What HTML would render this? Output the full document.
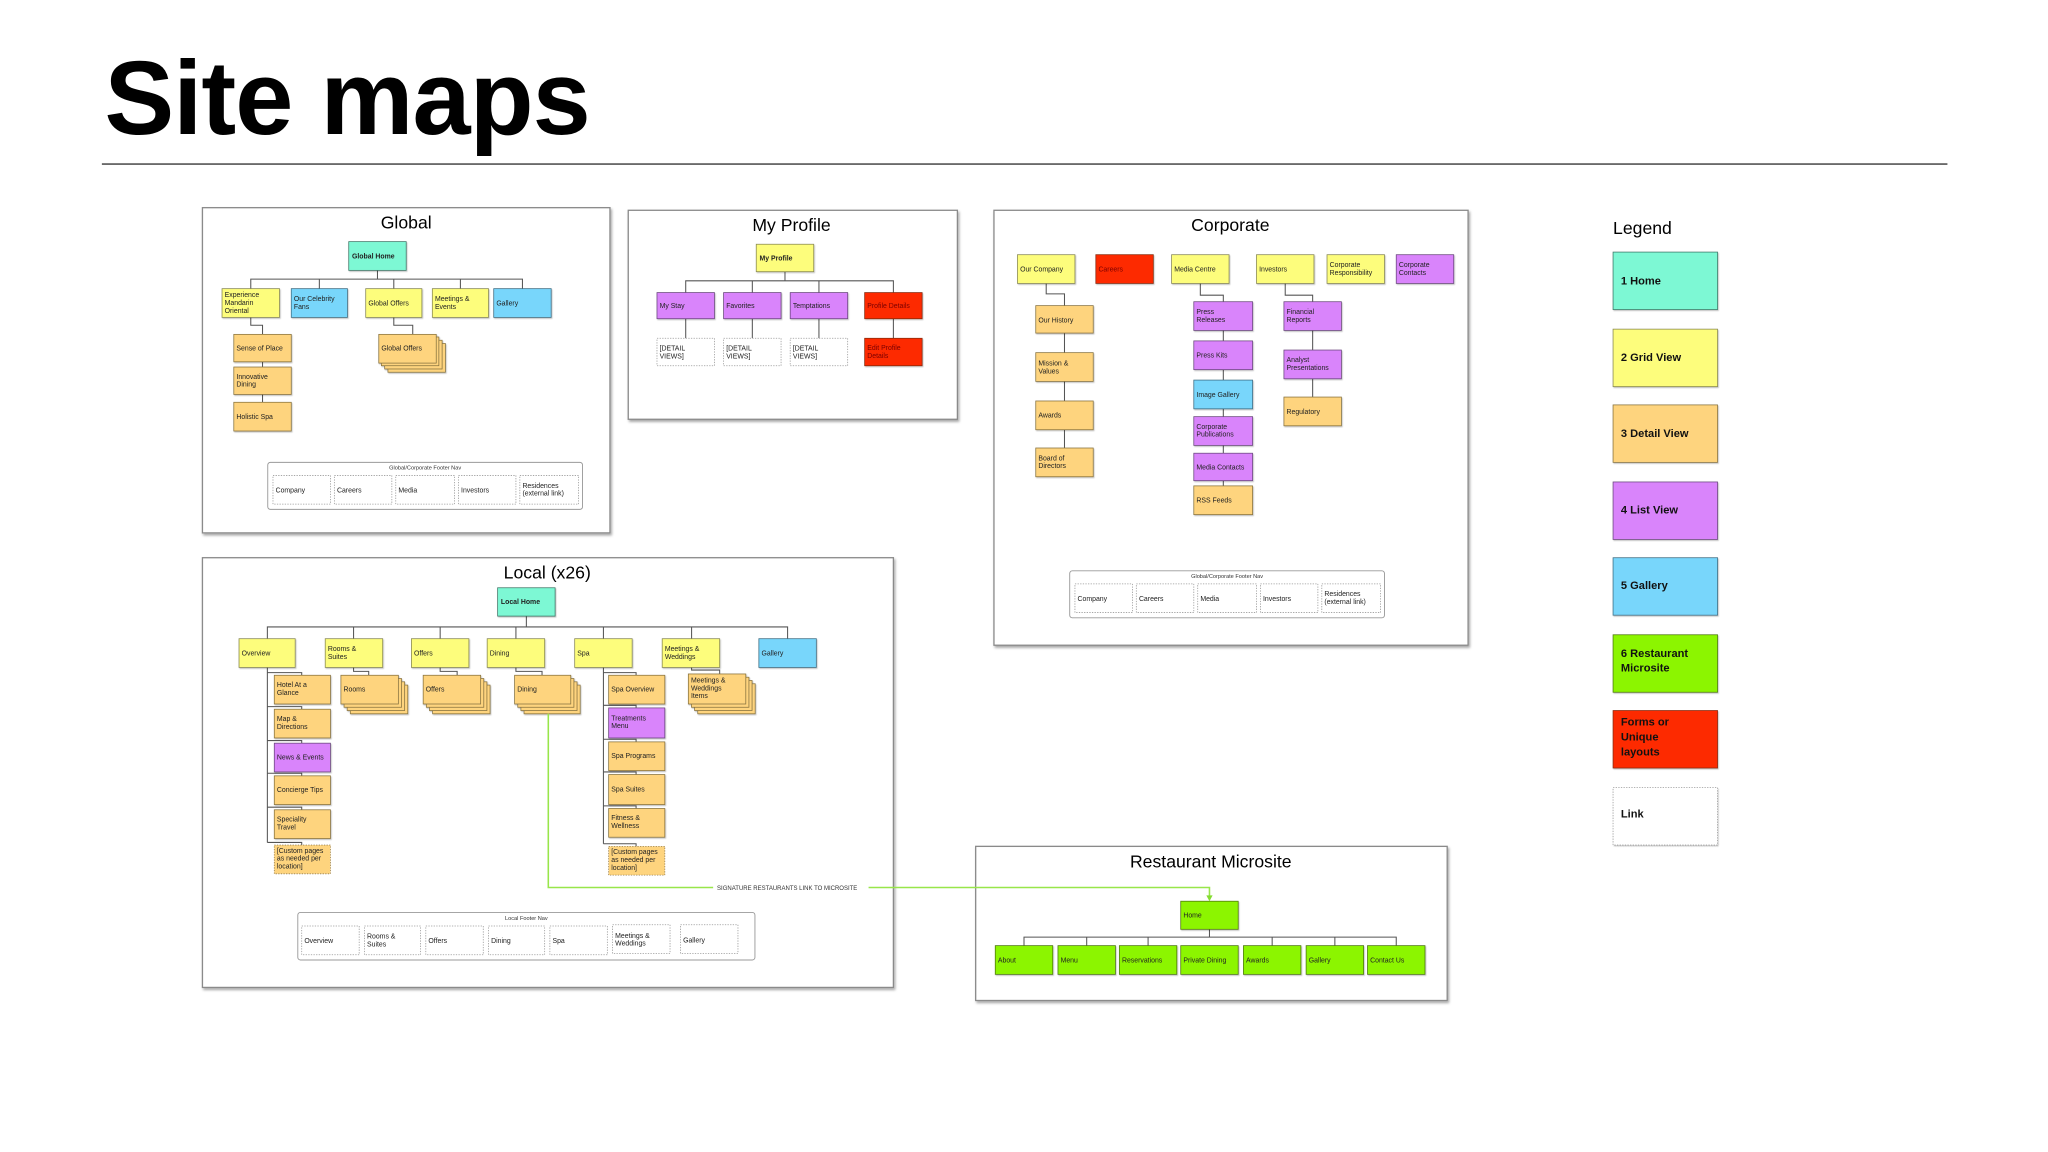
<!DOCTYPE html>
<html><head><meta charset="utf-8"><style>
html,body{margin:0;padding:0;background:#fff;}
svg{display:block;}
text{font-family:"Liberation Sans",Arial,sans-serif;}
.n{font-size:5.3px;fill:#222;}
.b{font-weight:bold;}
.pt{font-size:13.5px;fill:#000;text-anchor:middle;}
.c{fill:none;stroke:#555;stroke-width:0.8;}
.y{fill:#fdfd7c;stroke:#8a8a55;stroke-width:0.6;}
.o{fill:#fed47e;stroke:#8a7440;stroke-width:0.6;}
.p{fill:#d984fb;stroke:#6d4a80;stroke-width:0.6;}
.bl{fill:#78d6fb;stroke:#3f6f86;stroke-width:0.6;}
.h{fill:#7df8d4;stroke:#3f7a6a;stroke-width:0.6;}
.r{fill:#fd2b00;stroke:#8a2a10;stroke-width:0.6;}
.g{fill:#8cf500;stroke:#4f7a10;stroke-width:0.6;}
.d{fill:#fff;stroke:#999;stroke-width:0.6;stroke-dasharray:1 1;}
.od{fill:#fed47e;stroke:#998050;stroke-width:0.6;stroke-dasharray:1 1;}
.panel{fill:#fff;stroke:#8a8a8a;stroke-width:1;}
.fn{fill:#fff;stroke:#999;stroke-width:0.7;}
.ft{font-size:4.3px;fill:#333;text-anchor:middle;}
.rt{fill:#7a0000;}
.lg{font-size:8.5px;font-weight:bold;fill:#111;}
</style></head><body>
<svg width="2048" height="1152" viewBox="0 0 1568 882" xmlns="http://www.w3.org/2000/svg">
<defs>
<filter id="sh" x="-5%" y="-5%" width="115%" height="115%"><feDropShadow dx="1" dy="1.5" stdDeviation="1" flood-color="#000" flood-opacity="0.35"/></filter>
<filter id="ns" x="-10%" y="-10%" width="130%" height="140%"><feDropShadow dx="0.6" dy="0.8" stdDeviation="0.5" flood-color="#000" flood-opacity="0.25"/></filter>
</defs>

<text x="80" y="102.6" style="font-size:80px;font-weight:bold;letter-spacing:-0.7px;" fill="#000">Site maps</text>
<line x1="78" y1="125.6" x2="1491" y2="125.6" stroke="#555" stroke-width="1.2"/>

<!-- GLOBAL -->
<rect class="panel" x="155" y="159" width="312" height="249" filter="url(#sh)"/>
<text class="pt" x="311" y="175">Global</text>
<path class="c" d="M289 207V213.7M192 221V213.7H400V221M244.5 213.7V221M301.5 213.7V221M352.5 213.7V221"/>
<path class="c" d="M192 243V249H201V256M201 277V281M201 302V308M301.5 243V249H316V256"/>
<g filter="url(#ns)">
<rect class="h" x="267" y="185" width="44" height="22"/>
<rect class="y" x="170" y="221" width="44" height="22"/>
<rect class="bl" x="223" y="221" width="43" height="22"/>
<rect class="y" x="280" y="221" width="43" height="22"/>
<rect class="y" x="331" y="221" width="43" height="22"/>
<rect class="bl" x="378" y="221" width="44" height="22"/>
<rect class="o" x="179" y="256" width="44" height="21"/>
<rect class="o" x="179" y="281" width="44" height="21"/>
<rect class="o" x="179" y="308" width="44" height="22"/>
<rect class="o" x="297" y="263" width="44" height="22"/>
<rect class="o" x="294.5" y="260.5" width="44" height="22"/>
<rect class="o" x="292" y="258" width="44" height="22"/>
<rect class="o" x="290" y="256" width="44" height="22"/>
</g>
<text class="n b" x="269.5" y="197.8">Global Home</text>
<text class="n" x="172" y="227.5">Experience<tspan x="172" dy="6">Mandarin</tspan><tspan x="172" dy="6">Oriental</tspan></text>
<text class="n" x="225" y="230.5">Our Celebrity<tspan x="225" dy="6">Fans</tspan></text>
<text class="n" x="282" y="233.8">Global Offers</text>
<text class="n" x="333" y="230.5">Meetings &amp;<tspan x="333" dy="6">Events</tspan></text>
<text class="n" x="380" y="233.8">Gallery</text>
<text class="n" x="181" y="268.3">Sense of Place</text>
<text class="n" x="181" y="290">Innovative<tspan x="181" dy="6">Dining</tspan></text>
<text class="n" x="181" y="320.7">Holistic Spa</text>
<text class="n" x="292" y="268.5">Global Offers</text>
<rect class="fn" x="205" y="354" width="241" height="36" rx="2"/>
<text class="ft" x="325.5" y="359.5">Global/Corporate Footer Nav</text>
<rect class="d" x="209" y="364" width="44" height="22"/>
<rect class="d" x="256" y="364" width="44" height="22"/>
<rect class="d" x="303" y="364" width="45" height="22"/>
<rect class="d" x="351" y="364" width="44" height="22"/>
<rect class="d" x="398" y="364" width="45" height="22"/>
<text class="n" x="211" y="377">Company</text>
<text class="n" x="258" y="377">Careers</text>
<text class="n" x="305" y="377">Media</text>
<text class="n" x="353" y="377">Investors</text>
<text class="n" x="400" y="373.5">Residences<tspan x="400" dy="5.8">(external link)</tspan></text>

<!-- MY PROFILE -->
<rect class="panel" x="481" y="161" width="252" height="160" filter="url(#sh)"/>
<text class="pt" x="606" y="177">My Profile</text>
<path class="c" d="M601 208V215M525 224V215H684V224M576 215V224M627 215V224M525 244V259M576 244V259M627 244V259M684 244V259"/>
<g filter="url(#ns)">
<rect class="y" x="579" y="187" width="44" height="21"/>
<rect class="p" x="503" y="224" width="44" height="20"/>
<rect class="p" x="554" y="224" width="44" height="20"/>
<rect class="p" x="605" y="224" width="44" height="20"/>
<rect class="r" x="662" y="224" width="44" height="20"/>
<rect class="r" x="662" y="259" width="44" height="21"/>
</g>
<rect class="d" x="503" y="259" width="44" height="21"/>
<rect class="d" x="554" y="259" width="44" height="21"/>
<rect class="d" x="605" y="259" width="44" height="21"/>
<text class="n b" x="581.5" y="199.5">My Profile</text>
<text class="n" x="505" y="236">My Stay</text>
<text class="n" x="556" y="236">Favorites</text>
<text class="n" x="607" y="236">Temptations</text>
<text class="n rt" x="664" y="236">Profile Details</text>
<text class="n" x="505" y="268.5">[DETAIL<tspan x="505" dy="6">VIEWS]</tspan></text>
<text class="n" x="556" y="268.5">[DETAIL<tspan x="556" dy="6">VIEWS]</tspan></text>
<text class="n" x="607" y="268.5">[DETAIL<tspan x="607" dy="6">VIEWS]</tspan></text>
<text class="n rt" x="664" y="268">Edit Profile<tspan x="664" dy="6">Details</tspan></text>

<!-- CORPORATE -->
<rect class="panel" x="761" y="161" width="363" height="333" filter="url(#sh)"/>
<text class="pt" x="942" y="177">Corporate</text>
<path class="c" d="M801 217V225H815V234M815 255V270M815 292V307M815 329V343"/>
<path class="c" d="M919 217V226H936.6V231M936.6 253V261M936.6 283V291M936.6 313V319M936.6 341V347M936.6 368V372"/>
<path class="c" d="M984 217V226H1005V231M1005 253V268M1005 290V304"/>
<g filter="url(#ns)">
<rect class="y" x="779" y="195" width="44" height="22"/>
<rect class="r" x="839" y="195" width="44" height="22"/>
<rect class="y" x="897" y="195" width="44" height="22"/>
<rect class="y" x="962" y="195" width="44" height="22"/>
<rect class="y" x="1016" y="195" width="44" height="22"/>
<rect class="p" x="1069" y="195" width="44" height="22"/>
<rect class="o" x="793" y="234" width="44" height="21"/>
<rect class="o" x="793" y="270" width="44" height="22"/>
<rect class="o" x="793" y="307" width="44" height="22"/>
<rect class="o" x="793" y="343" width="44" height="22"/>
<rect class="p" x="914" y="231" width="45" height="22"/>
<rect class="p" x="914" y="261" width="45" height="22"/>
<rect class="bl" x="914" y="291" width="45" height="22"/>
<rect class="p" x="914" y="319" width="45" height="22"/>
<rect class="p" x="914" y="347" width="45" height="21"/>
<rect class="o" x="914" y="372" width="45" height="22"/>
<rect class="p" x="983" y="231" width="44" height="22"/>
<rect class="p" x="983" y="268" width="44" height="22"/>
<rect class="o" x="983" y="304" width="44" height="22"/>
</g>
<text class="n" x="781" y="207.8">Our Company</text>
<text class="n rt" x="841" y="207.8">Careers</text>
<text class="n" x="899" y="207.8">Media Centre</text>
<text class="n" x="964" y="207.8">Investors</text>
<text class="n" x="1018" y="204.5">Corporate<tspan x="1018" dy="6">Responsibility</tspan></text>
<text class="n" x="1071" y="204.5">Corporate<tspan x="1071" dy="6">Contacts</tspan></text>
<text class="n" x="795" y="246.8">Our History</text>
<text class="n" x="795" y="279.8">Mission &amp;<tspan x="795" dy="6">Values</tspan></text>
<text class="n" x="795" y="319.8">Awards</text>
<text class="n" x="795" y="352.5">Board of<tspan x="795" dy="6">Directors</tspan></text>
<text class="n" x="916" y="240.5">Press<tspan x="916" dy="6">Releases</tspan></text>
<text class="n" x="916" y="273.8">Press Kits</text>
<text class="n" x="916" y="303.8">Image Gallery</text>
<text class="n" x="916" y="328.3">Corporate<tspan x="916" dy="6">Publications</tspan></text>
<text class="n" x="916" y="359.3">Media Contacts</text>
<text class="n" x="916" y="384.8">RSS Feeds</text>
<text class="n" x="985" y="240.5">Financial<tspan x="985" dy="6">Reports</tspan></text>
<text class="n" x="985" y="277.3">Analyst<tspan x="985" dy="6">Presentations</tspan></text>
<text class="n" x="985" y="316.8">Regulatory</text>
<rect class="fn" x="819" y="437" width="241" height="36" rx="2"/>
<text class="ft" x="939.5" y="442.5">Global/Corporate Footer Nav</text>
<rect class="d" x="823" y="447" width="44" height="22"/>
<rect class="d" x="870" y="447" width="44" height="22"/>
<rect class="d" x="917" y="447" width="45" height="22"/>
<rect class="d" x="965" y="447" width="44" height="22"/>
<rect class="d" x="1012" y="447" width="45" height="22"/>
<text class="n" x="825" y="460">Company</text>
<text class="n" x="872" y="460">Careers</text>
<text class="n" x="919" y="460">Media</text>
<text class="n" x="967" y="460">Investors</text>
<text class="n" x="1014" y="456.5">Residences<tspan x="1014" dy="5.8">(external link)</tspan></text>

<!-- LOCAL -->
<rect class="panel" x="155" y="427" width="529" height="329" filter="url(#sh)"/>
<text class="pt" x="419" y="443">Local (x26)</text>
<path class="c" d="M403 471.7V480M204.7 489V480H603V489M270.7 480V489M337 480V489M395 480V489M462 480V489M529.5 480V489"/>
<path class="c" d="M204.7 511V645M204.7 515H231V517M204.7 541H231V543M204.7 567H231V569M204.7 592H231V594M204.7 618H231V620M204.7 645H231V647"/>
<path class="c" d="M462 511V646M462 515H487V517M462 540H487V542M462 566H487V568M462 591H487V593M462 617H487V619M462 646H487V648"/>
<path class="c" d="M270.7 511V514H282.3V517M337 511V514H350V517M395 511V514H415V517M529.5 511V513H551V516"/>
<g filter="url(#ns)">
<rect class="h" x="381" y="450" width="44" height="21.7"/>
<rect class="y" x="183" y="489" width="43" height="22"/>
<rect class="y" x="249" y="489" width="44" height="22"/>
<rect class="y" x="315" y="489" width="44" height="22"/>
<rect class="y" x="373" y="489" width="44" height="22"/>
<rect class="y" x="440" y="489" width="44" height="22"/>
<rect class="y" x="507" y="489" width="44" height="22"/>
<rect class="bl" x="581" y="489" width="44" height="22"/>
<rect class="o" x="210" y="517" width="43" height="22"/>
<rect class="o" x="210" y="543" width="43" height="22"/>
<rect class="p" x="210" y="569" width="43" height="22"/>
<rect class="o" x="210" y="594" width="43" height="22"/>
<rect class="o" x="210" y="620" width="43" height="22"/>
<rect class="o" x="466" y="517" width="43" height="22"/>
<rect class="p" x="466" y="542" width="43" height="23"/>
<rect class="o" x="466" y="568" width="43" height="22"/>
<rect class="o" x="466" y="593" width="43" height="23"/>
<rect class="o" x="466" y="619" width="43" height="22"/>
<rect class="o" x="268.2" y="524.5" width="44" height="22"/><rect class="o" x="265.8" y="522" width="44" height="22"/><rect class="o" x="263.4" y="519.5" width="44" height="22"/><rect class="o" x="261" y="517" width="44" height="22"/>
<rect class="o" x="331.2" y="524.5" width="44" height="22"/><rect class="o" x="328.8" y="522" width="44" height="22"/><rect class="o" x="326.4" y="519.5" width="44" height="22"/><rect class="o" x="324" y="517" width="44" height="22"/>
<rect class="o" x="401.2" y="524.5" width="43" height="22"/><rect class="o" x="398.8" y="522" width="43" height="22"/><rect class="o" x="396.4" y="519.5" width="43" height="22"/><rect class="o" x="394" y="517" width="43" height="22"/>
<rect class="o" x="534.2" y="523.5" width="44" height="23"/><rect class="o" x="531.8" y="521" width="44" height="23"/><rect class="o" x="529.4" y="518.5" width="44" height="23"/><rect class="o" x="527" y="516" width="44" height="23"/>
</g>
<rect class="od" x="210" y="647" width="43" height="22"/>
<rect class="od" x="466" y="648" width="43" height="22"/>
<text class="n b" x="383.5" y="462.5">Local Home</text>
<text class="n" x="185" y="501.8">Overview</text>
<text class="n" x="251" y="498.5">Rooms &amp;<tspan x="251" dy="6">Suites</tspan></text>
<text class="n" x="317" y="501.8">Offers</text>
<text class="n" x="375" y="501.8">Dining</text>
<text class="n" x="442" y="501.8">Spa</text>
<text class="n" x="509" y="498.5">Meetings &amp;<tspan x="509" dy="6">Weddings</tspan></text>
<text class="n" x="583" y="501.8">Gallery</text>
<text class="n" x="212" y="526">Hotel At a<tspan x="212" dy="6">Glance</tspan></text>
<text class="n" x="212" y="552">Map &amp;<tspan x="212" dy="6">Directions</tspan></text>
<text class="n" x="212" y="581.5">News &amp; Events</text>
<text class="n" x="212" y="606.5">Concierge Tips</text>
<text class="n" x="212" y="629">Speciality<tspan x="212" dy="6">Travel</tspan></text>
<text class="n" x="212" y="653">[Custom pages<tspan x="212" dy="6">as needed per</tspan><tspan x="212" dy="6">location]</tspan></text>
<text class="n" x="263" y="529.5">Rooms</text>
<text class="n" x="326" y="529.5">Offers</text>
<text class="n" x="396" y="529.5">Dining</text>
<text class="n" x="529" y="522.5">Meetings &amp;<tspan x="529" dy="6">Weddings</tspan><tspan x="529" dy="6">Items</tspan></text>
<text class="n" x="468" y="529.5">Spa Overview</text>
<text class="n" x="468" y="551.5">Treatments<tspan x="468" dy="6">Menu</tspan></text>
<text class="n" x="468" y="580.5">Spa Programs</text>
<text class="n" x="468" y="606">Spa Suites</text>
<text class="n" x="468" y="628">Fitness &amp;<tspan x="468" dy="6">Wellness</tspan></text>
<text class="n" x="468" y="654">[Custom pages<tspan x="468" dy="6">as needed per</tspan><tspan x="468" dy="6">location]</tspan></text>
<rect class="fn" x="228" y="698.6" width="350" height="36.4" rx="2"/>
<text class="ft" x="403" y="704.5">Local Footer Nav</text>
<rect class="d" x="231" y="709" width="44" height="22"/>
<rect class="d" x="279" y="709" width="43" height="22"/>
<rect class="d" x="326" y="709" width="44" height="22"/>
<rect class="d" x="374" y="709" width="43" height="22"/>
<rect class="d" x="421" y="709" width="44" height="22"/>
<rect class="d" x="469" y="708" width="44" height="22"/>
<rect class="d" x="521" y="708" width="44" height="22"/>
<text class="n" x="233" y="722">Overview</text>
<text class="n" x="281" y="718.5">Rooms &amp;<tspan x="281" dy="6">Suites</tspan></text>
<text class="n" x="328" y="722">Offers</text>
<text class="n" x="376" y="722">Dining</text>
<text class="n" x="423" y="722">Spa</text>
<text class="n" x="471" y="718">Meetings &amp;<tspan x="471" dy="6">Weddings</tspan></text>
<text class="n" x="523" y="721.5">Gallery</text>

<!-- RESTAURANT -->
<rect class="panel" x="747" y="648" width="361" height="118" filter="url(#sh)"/>
<text class="pt" x="927" y="664">Restaurant Microsite</text>
<path class="c" d="M926 711V717.5M784 724V717.5H1069V724M832 717.5V724M879 717.5V724M974 717.5V724M1022 717.5V724"/>
<g filter="url(#ns)">
<rect class="g" x="904" y="690" width="44" height="21.5"/>
<rect class="g" x="762" y="724" width="44" height="22"/>
<rect class="g" x="810" y="724" width="44" height="22"/>
<rect class="g" x="857" y="724" width="44" height="22"/>
<rect class="g" x="904" y="724" width="44" height="22"/>
<rect class="g" x="952" y="724" width="44" height="22"/>
<rect class="g" x="1000" y="724" width="44" height="22"/>
<rect class="g" x="1047" y="724" width="44" height="22"/>
</g>
<text class="n" x="906" y="702.5">Home</text>
<text class="n" x="764" y="736.8">About</text>
<text class="n" x="812" y="736.8">Menu</text>
<text class="n" x="859" y="736.8">Reservations</text>
<text class="n" x="906" y="736.8">Private Dining</text>
<text class="n" x="954" y="736.8">Awards</text>
<text class="n" x="1002" y="736.8">Gallery</text>
<text class="n" x="1049" y="736.8">Contact Us</text>

<path d="M419.8 546.5V679.5H546M665 679.5H926V686" fill="none" stroke="#98e64a" stroke-width="1.2"/>
<path d="M923.6 685.5L928.4 685.5L926 690Z" fill="#84dc30"/>
<text x="549" y="681.3" style="font-size:4.6px;fill:#333;">SIGNATURE RESTAURANTS LINK TO MICROSITE</text>

<!-- LEGEND -->
<text x="1235" y="179" style="font-size:13.5px;fill:#000;">Legend</text>
<g filter="url(#ns)">
<rect class="h" x="1235" y="193" width="80" height="44"/>
<rect class="y" x="1235" y="252" width="80" height="44"/>
<rect class="o" x="1235" y="310" width="80" height="44"/>
<rect class="p" x="1235" y="369" width="80" height="44"/>
<rect class="bl" x="1235" y="427" width="80" height="44"/>
<rect class="g" x="1235" y="486" width="80" height="44"/>
<rect class="r" x="1235" y="544" width="80" height="44"/>
<rect class="d" x="1235" y="603" width="80" height="44"/>
</g>
<text class="lg" x="1241" y="218">1 Home</text>
<text class="lg" x="1241" y="276.5">2 Grid View</text>
<text class="lg" x="1241" y="334.5">3 Detail View</text>
<text class="lg" x="1241" y="393">4 List View</text>
<text class="lg" x="1241" y="451">5 Gallery</text>
<text class="lg" x="1241" y="503">6 Restaurant<tspan x="1241" dy="11">Microsite</tspan></text>
<text class="lg rt" x="1241" y="555.5">Forms or<tspan x="1241" dy="11.5">Unique</tspan><tspan x="1241" dy="11.5">layouts</tspan></text>
<text class="lg" x="1241" y="626">Link</text>
</svg>
</body></html>
